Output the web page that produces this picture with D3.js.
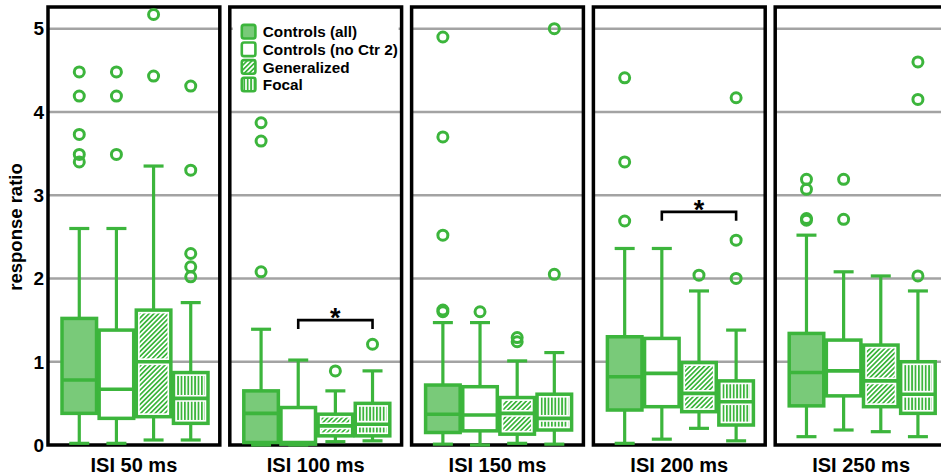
<!DOCTYPE html>
<html>
<head>
<meta charset="utf-8">
<script src="https://cdn.jsdelivr.net/npm/d3@7"></script>
<style>
  body { margin: 0; background: #fff; }
  svg { display: block; font-family: Arial, "Liberation Sans", sans-serif; font-weight: bold; }
</style>
</head>
<body>
<svg id="chart" width="941" height="475"></svg>
<script>
// ISI conditions (one panel each) and subject groups (one box each)
const isiLabels = ["ISI 50 ms", "ISI 100 ms", "ISI 150 ms", "ISI 200 ms", "ISI 250 ms"];
const groups = ["Controls (all)", "Controls (no Ctr 2)", "Generalized", "Focal"];

// Box statistics per ISI (rows) and group (columns)
const whiskerLow = [
  [0.02, 0.02, 0.06, 0.06],
  [0.00, 0.00, 0.04, 0.05],
  [0.01, 0.00, 0.02, 0.01],
  [0.02, 0.07, 0.20, 0.05],
  [0.10, 0.18, 0.16, 0.10]
];
const quartile1 = [
  [0.38, 0.32, 0.34, 0.26],
  [0.03, 0.01, 0.11, 0.11],
  [0.15, 0.17, 0.13, 0.18],
  [0.42, 0.46, 0.40, 0.24],
  [0.47, 0.59, 0.46, 0.38]
];
const medians = [
  [0.78, 0.67, 1.00, 0.56],
  [0.38, 0.03, 0.23, 0.25],
  [0.37, 0.36, 0.38, 0.32],
  [0.82, 0.86, 0.62, 0.52],
  [0.87, 0.89, 0.77, 0.61]
];
const quartile3 = [
  [1.52, 1.38, 1.62, 0.87],
  [0.65, 0.45, 0.37, 0.50],
  [0.72, 0.70, 0.57, 0.61],
  [1.30, 1.28, 0.99, 0.77],
  [1.34, 1.26, 1.20, 1.00]
];
const whiskerHigh = [
  [2.60, 2.60, 3.35, 1.71],
  [1.39, 1.02, 0.65, 0.89],
  [1.47, 1.47, 1.01, 1.11],
  [2.36, 2.36, 1.85, 1.38],
  [2.52, 2.08, 2.03, 1.85]
];
const outliers = [
  [[4.48, 4.19, 3.73, 3.49, 3.40], [4.48, 4.19, 3.49], [5.17, 4.43], [4.31, 3.30, 2.30, 2.14, 2.02]],
  [[3.87, 3.65, 2.08], [], [0.89], [1.21]],
  [[4.90, 3.70, 2.52, 1.62, 1.60], [1.60], [1.29, 1.24], [5.00, 2.05]],
  [[4.41, 3.40, 2.69], [], [2.04], [4.17, 2.46, 2.00]],
  [[3.19, 3.07, 2.72, 2.70], [3.19, 2.71], [], [4.60, 4.15, 2.03]]
];

// Significant comparisons: panel, the two groups compared, bracket level
const sigPanels = ["ISI 100 ms", "ISI 200 ms"];
const sigFrom = ["Controls (no Ctr 2)", "Controls (no Ctr 2)"];
const sigTo = ["Focal", "Focal"];
const sigLevel = [1.50, 2.80];

const yTicks = [0, 1, 2, 3, 4, 5];

const GREEN = "#3cb53c";
const LIGHT = "#79ca79";

const svg = d3.select("#chart");

const y = d3.scaleLinear().domain([0, 5.26]).range([445, 7]);
const xPanel = d3.scaleBand().domain(isiLabels).range([48, 947]).paddingInner(0.055);
const xGroup = d3.scaleBand().domain(groups).range([14, 160]).paddingInner(0.07);
const pw = xPanel.bandwidth();
const bw = xGroup.bandwidth();

// hatch patterns
const defs = svg.append("defs");
const diag = defs.append("pattern").attr("id", "hatch-diag")
  .attr("patternUnits", "userSpaceOnUse").attr("width", 3.4).attr("height", 10)
  .attr("patternTransform", "rotate(45)");
diag.append("rect").attr("width", 3.4).attr("height", 10).attr("fill", "#fff");
diag.append("rect").attr("width", 1.7).attr("height", 10).attr("fill", GREEN);
const vert = defs.append("pattern").attr("id", "hatch-vert")
  .attr("patternUnits", "userSpaceOnUse").attr("width", 3.4).attr("height", 10);
vert.append("rect").attr("width", 3.4).attr("height", 10).attr("fill", "#fff");
vert.append("rect").attr("width", 1.8).attr("height", 10).attr("fill", GREEN);

const groupFill = {
  "Controls (all)": LIGHT,
  "Controls (no Ctr 2)": "#fff",
  "Generalized": "url(#hatch-diag)",
  "Focal": "url(#hatch-vert)"
};
const hatched = g => g === "Generalized" || g === "Focal";

// y axis tick labels
svg.append("g").selectAll("text").data(yTicks).join("text")
  .attr("x", 44).attr("y", d => y(d)).attr("dy", "0.36em")
  .attr("text-anchor", "end").attr("font-size", 19).attr("fill", "#000")
  .text(d => d);

svg.append("text")
  .attr("transform", "translate(22,227) rotate(-90)")
  .attr("text-anchor", "middle").attr("font-size", 18.5).attr("fill", "#000")
  .text("response ratio");

isiLabels.forEach((isi, pi) => {
  const g = svg.append("g").attr("transform", `translate(${xPanel(isi)},0)`);

  // grid lines
  g.append("g").selectAll("line").data(yTicks.filter(d => d > 0)).join("line")
    .attr("x1", 0).attr("x2", pw)
    .attr("y1", d => y(d)).attr("y2", d => y(d))
    .attr("stroke", "#a3a3a3").attr("stroke-width", 2.5);

  // legend sits in the second panel, over the top grid line
  if (pi === 1) {
    g.append("rect").attr("x", 3).attr("y", 12).attr("width", pw - 6).attr("height", 85)
      .attr("fill", "#fff");
  }

  // panel frame
  g.append("rect").attr("x", 0).attr("y", y.range()[1]).attr("width", pw)
    .attr("height", y.range()[0] - y.range()[1])
    .attr("fill", "none").attr("stroke", "#000").attr("stroke-width", 3.5);

  groups.forEach((grp, gi) => {
    const x0 = xGroup(grp);
    const cx = x0 + bw / 2;
    const lo = whiskerLow[pi][gi], q1 = quartile1[pi][gi], md = medians[pi][gi],
          q3 = quartile3[pi][gi], hi = whiskerHigh[pi][gi];
    const b = g.append("g");
    const line = (x1, y1, x2, y2, w) => b.append("line")
      .attr("x1", x1).attr("y1", y1).attr("x2", x2).attr("y2", y2)
      .attr("stroke", GREEN).attr("stroke-width", w || 3.2);
    // whiskers and caps
    line(cx, y(hi), cx, y(q3));
    line(cx - 10, y(hi), cx + 10, y(hi));
    line(cx, y(q1), cx, y(lo));
    line(cx - 10, y(lo), cx + 10, y(lo));

    // box body
    const boxH = Math.max(0, y(q1) - y(q3));
    if (hatched(grp)) {
      b.append("rect").attr("x", x0).attr("y", y(q3)).attr("width", bw)
        .attr("height", boxH).attr("fill", "#fff");
      const inset = 3.4;
      [[q3, md], [md, q1]].forEach(([top, bot]) => {
        const h = y(bot) - y(top) - 2 * inset;
        if (h > 0) {
          b.append("rect").attr("x", x0 + inset).attr("y", y(top) + inset)
            .attr("width", bw - 2 * inset).attr("height", h)
            .attr("fill", groupFill[grp]);
        }
      });
      b.append("rect").attr("x", x0).attr("y", y(q3)).attr("width", bw)
        .attr("height", boxH)
        .attr("fill", "none").attr("stroke", GREEN).attr("stroke-width", 3.5);
    } else {
      b.append("rect").attr("x", x0).attr("y", y(q3)).attr("width", bw)
        .attr("height", boxH)
        .attr("fill", groupFill[grp]).attr("stroke", GREEN).attr("stroke-width", 3.5);
    }
    // median
    line(x0, y(md), x0 + bw, y(md), 3.6);

    // outliers
    b.selectAll("circle").data(outliers[pi][gi]).join("circle")
      .attr("cx", cx).attr("cy", d => y(d)).attr("r", 5)
      .attr("fill", "none").attr("stroke", GREEN).attr("stroke-width", 3);
  });

  // x label
  g.append("text").attr("x", pw / 2).attr("y", 472)
    .attr("text-anchor", "middle").attr("font-size", 20).attr("fill", "#000")
    .text(isi);
});

// significance brackets
sigPanels.forEach((isi, k) => {
  const px = xPanel(isi);
  const xa = px + xGroup(sigFrom[k]) + bw / 2;
  const xb = px + xGroup(sigTo[k]) + bw / 2;
  const yy = y(sigLevel[k]);
  svg.append("path")
    .attr("d", `M${xa},${yy + 9}V${yy}H${xb}V${yy + 9}`)
    .attr("fill", "none").attr("stroke", "#000").attr("stroke-width", 2.6);
  svg.append("text").attr("x", (xa + xb) / 2).attr("y", yy + 7)
    .attr("text-anchor", "middle").attr("font-size", 27).attr("fill", "#000")
    .text("*");
});

// legend
const leg = svg.append("g").attr("transform", `translate(${xPanel(isiLabels[1])},0)`);
groups.forEach((grp, i) => {
  const cy = 31.7 + i * 17.6;
  leg.append("rect").attr("x", 12).attr("y", cy - 6.8).attr("width", 13.6).attr("height", 13.6)
    .attr("rx", 2.2).attr("fill", groupFill[grp]).attr("stroke", GREEN).attr("stroke-width", 2.6);
  leg.append("text").attr("x", 33).attr("y", cy + 5.6)
    .attr("font-size", 15.3).attr("fill", "#000").text(grp);
});
</script>
</body>
</html>
